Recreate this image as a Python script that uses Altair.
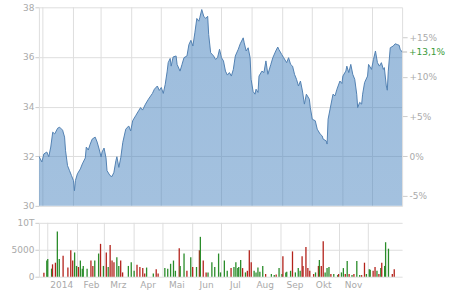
import altair as alt
import pandas as pd

# ---------------- data ----------------
# price: day offset from 2014-01-01, closing price
price_day = [-4, -1, 1, 4, 6, 8, 10, 12, 15, 17, 20, 22, 23, 25, 27, 29, 31, 32, 33, 35,
             38, 40, 43, 44, 46, 48, 50, 53, 55, 57, 59, 60, 62, 64, 65, 68, 70, 72, 74, 75,
             77, 79, 81, 84, 87, 89, 91, 94, 97, 99, 101, 104, 107, 111, 113, 116, 118, 120, 122, 124,
             126, 127, 129, 130, 132, 135, 136, 139, 141, 143, 146, 148, 150, 152, 154, 156, 158, 159, 161, 163,
             165, 167, 168, 170, 173, 175, 177, 179, 181, 183, 185, 187, 189, 191, 193, 195, 198, 200, 203, 204,
             206, 208, 210, 211, 213, 215, 216, 218, 219, 222, 224, 226, 228, 231, 233, 236, 238, 239, 242, 244,
             247, 249, 251, 253, 255, 257, 259, 261, 263, 265, 267, 270, 271, 273, 276, 278, 281, 283, 284, 287,
             288, 289, 292, 294, 296, 298, 301, 303, 304, 307, 308, 310, 312, 314, 316, 318, 319, 321, 323, 324,
             326, 329, 330, 333, 335, 337, 339, 341, 343, 345, 346, 348, 349, 350, 352, 355, 357, 359, 361, 362,
             364]
price_val = [32.00, 31.77, 32.09, 32.17, 31.98, 32.37, 32.97, 32.90, 33.13, 33.17, 33.05, 32.77, 32.22, 31.62, 31.42, 31.22, 31.02, 30.61, 31.02, 31.29,
             31.49, 31.69, 31.93, 32.37, 32.25, 32.49, 32.69, 32.77, 32.57, 32.29, 31.97, 32.17, 32.33, 31.93, 31.42, 31.22, 31.18, 31.35, 31.82, 31.98,
             31.55, 31.96, 32.56, 33.09, 33.22, 33.02, 33.43, 33.63, 33.83, 33.96, 33.86, 34.10, 34.30, 34.53, 34.70, 34.83, 34.65, 34.77, 34.53, 34.90,
             35.43, 35.77, 35.94, 35.63, 36.00, 36.04, 35.70, 35.43, 35.70, 35.97, 36.04, 36.50, 36.67, 36.44, 36.97, 37.55, 37.44, 37.58, 37.91, 37.64,
             37.55, 37.64, 36.91, 36.17, 36.04, 35.90, 35.97, 36.31, 35.97, 35.84, 35.43, 35.27, 35.37, 35.23, 35.50, 36.04, 36.31, 36.53, 36.77, 36.57,
             36.24, 36.37, 35.97, 35.10, 34.61, 34.50, 34.70, 34.57, 35.23, 35.43, 35.37, 35.84, 35.30, 35.70, 35.97, 36.24, 36.40, 36.31, 36.10, 35.97,
             35.77, 35.97, 35.70, 35.63, 35.30, 35.10, 34.83, 35.03, 34.63, 34.10, 34.50, 34.30, 33.96, 33.49, 33.43, 33.09, 32.89, 32.82, 32.69, 32.62,
             32.49, 33.49, 34.10, 34.50, 34.43, 34.70, 35.03, 34.93, 35.23, 35.43, 35.63, 35.37, 35.70, 35.30, 35.10, 34.50, 33.96, 34.17, 34.10, 34.50,
             34.97, 35.23, 35.70, 35.50, 35.90, 36.24, 35.77, 35.63, 35.77, 35.50, 35.57, 34.83, 34.66, 35.43, 36.37, 36.44, 36.53, 36.50, 36.47, 36.31,
             36.20]

# volume: day offset, shares, direction
vol_day = [-4, -1, 0, 4, 5, 8, 10, 12, 16, 21, 24, 26, 28, 30, 32, 34, 36, 37, 41, 45,
           47, 49, 53, 55, 58, 61, 63, 65, 67, 69, 72, 74, 76, 78, 84, 87, 90, 93, 96, 99,
           101, 103, 110, 113, 115, 122, 125, 128, 131, 133, 137, 138, 142, 145, 149, 151, 155, 158, 159, 162,
           165, 167, 171, 174, 178, 180, 184, 187, 191, 194, 196, 198, 199, 201, 203, 206, 208, 210, 212, 215,
           217, 219, 221, 224, 227, 233, 236, 238, 241, 244, 245, 248, 249, 253, 255, 258, 261, 263, 265, 266,
           269, 271, 273, 277, 279, 282, 283, 285, 287, 289, 291, 293, 295, 298, 302, 303, 306, 308, 310, 312,
           314, 317, 319, 322, 325, 327, 330, 332, 335, 336, 339, 341, 343, 345, 347, 348, 351, 352, 355, 359,
           361]
vol_val = [740, 3000, 3300, 1500, 2300, 2600, 8400, 3300, 3900, 1700, 4900, 3000, 4500, 2000, 1800, 3000, 1500, 2000, 1500, 3000,
           2000, 3000, 4300, 6100, 2000, 4500, 1800, 5900, 3000, 2700, 3600, 2000, 3000, 800, 2000, 2700, 1100, 2200, 1800, 1600,
           600, 1700, 600, 1400, 600, 1600, 1500, 2400, 3000, 1100, 5300, 2000, 4300, 1100, 3600, 1800, 1800, 4900, 7400, 3000,
           800, 800, 2700, 1800, 4300, 800, 3000, 1100, 1600, 1800, 2700, 1600, 1800, 3100, 1600, 800, 1100, 4900, 2700, 1100,
           800, 1700, 900, 2000, 500, 500, 300, 400, 1600, 500, 3800, 800, 900, 1100, 4700, 800, 1600, 1100, 3800, 2000,
           5500, 1600, 1100, 500, 800, 2000, 3100, 2000, 6600, 800, 1600, 1800, 500, 500, 300, 500, 800, 1600, 500, 2900,
           500, 300, 500, 2900, 300, 300, 2600, 500, 1400, 1300, 1100, 1800, 1100, 500, 1600, 2600, 2000, 6400, 5200, 500,
           1400]
vol_dir = ["d", "u", "u", "u", "d", "d", "u", "u", "d", "d", "d", "d", "u", "u", "d", "u", "u", "u", "u", "d",
           "d", "u", "u", "d", "u", "d", "u", "d", "d", "d", "u", "u", "d", "d", "u", "u", "u", "d", "d", "d",
           "d", "u", "u", "d", "d", "u", "u", "u", "u", "u", "d", "u", "u", "d", "u", "d", "u", "d", "u", "d",
           "d", "u", "u", "u", "u", "u", "u", "u", "d", "u", "u", "u", "u", "u", "d", "u", "d", "d", "d", "u",
           "u", "u", "u", "u", "d", "u", "u", "d", "u", "u", "d", "u", "u", "u", "d", "u", "u", "u", "d", "d",
           "d", "d", "d", "d", "u", "d", "u", "d", "d", "u", "u", "u", "d", "u", "u", "d", "u", "u", "d", "u",
           "d", "u", "d", "u", "u", "d", "d", "u", "u", "u", "d", "d", "u", "d", "u", "d", "u", "u", "u", "d",
           "d"]

month_labels = ["2014", "Feb", "Mrz", "Apr", "Mai", "Jun", "Jul", "Aug", "Sep", "Okt", "Nov", "Dez"]
label_months = list(range(1, 12))          # months that carry a label
price_ticks = [30, 32, 34, 36, 38]
pct_ticks = [-5, 0, 5, 10, 15]
vol_ticks = [0, 5000, 10000]

# ---------------- frames ----------------
origin = pd.Timestamp("2014-01-01")
def to_date(d):
    return (origin + pd.Timedelta(days=d)).strftime("%Y-%m-%dT00:00:00")

price_df = pd.DataFrame({"date": [to_date(d) for d in price_day], "price": price_val})
vol_df = pd.DataFrame({"date": [to_date(d) for d in vol_day], "vol": vol_val,
                       "dir": ["up" if s == "u" else "down" for s in vol_dir]})
grid_df = pd.DataFrame({"date": [f"2014-{m:02d}-01T00:00:00" for m in range(1, 13)]})

base = price_val[0]
last = price_val[-1]
pct_last = (last / base - 1) * 100
last_df = pd.DataFrame({"date": [price_df["date"].iloc[-1]], "price": [last],
                        "lab": ["+" + f"{pct_last:.1f}".replace(".", ",") + "%"]})

domain = [price_df["date"].iloc[0], price_df["date"].iloc[-1]]
xscale = alt.Scale(domain=domain, nice=False)

W = 364
FONT = "DejaVu Sans"
LAB = "#aaaaaa"
GRID = "#dedede"

# ---------------- price panel ----------------
xnone = alt.X("date:T", scale=xscale, axis=None)
yscale = alt.Scale(domain=[30, 38], nice=False, zero=False)

vgrid = alt.Chart(grid_df).mark_rule(color=GRID, strokeWidth=1).encode(x=xnone)

area = alt.Chart(price_df).mark_area(
    clip=True,
    color=alt.Gradient(
        gradient="linear",
        stops=[alt.GradientStop(color="rgba(70,130,190,0.53)", offset=0),
               alt.GradientStop(color="rgba(70,130,190,0.37)", offset=1)],
        x1=1, x2=1, y1=0, y2=1),
).encode(
    x=xnone,
    y=alt.Y("price:Q", scale=yscale,
            axis=alt.Axis(values=price_ticks, title=None, grid=True, gridColor=GRID,
                          tickSize=4, labelPadding=1, domain=True, domainColor=GRID)),
)

pct_vals = [base * (1 + p / 100) for p in pct_ticks]
pct_expr = (f"(round((datum.value/{base}-1)*100) > 0 ? '+' : '') + "
            f"round((datum.value/{base}-1)*100) + '%'")

line = alt.Chart(price_df).mark_line(color="#5281b2", strokeWidth=1, clip=True).encode(
    x=xnone,
    y=alt.Y("price:Q", scale=yscale,
            axis=alt.Axis(orient="right", values=pct_vals, labelExpr=pct_expr, title=None,
                          grid=False, tickSize=5, labelPadding=2, domain=True, domainColor=GRID)),
)

last_tick = alt.Chart(last_df).mark_rule(color="#bbbbbb").encode(
    x=alt.value(W), x2=alt.value(W + 5), y=alt.Y("price:Q", scale=yscale, axis=None))
last_text = alt.Chart(last_df).mark_text(
    align="left", baseline="middle", color="#3a9a3a", font=FONT, fontSize=9
).encode(x=alt.value(W + 7), y=alt.Y("price:Q", scale=yscale, axis=None), text="lab:N")

price_chart = alt.layer(vgrid, area, line, last_tick, last_text).resolve_axis(
    y="independent").properties(width=W, height=199)

# ---------------- volume panel ----------------
labels_js = "[" + ",".join(f"'{s}'" for s in month_labels) + "]"
xaxis_vol = alt.Axis(values=[alt.DateTime(year=2014, month=m, date=15) for m in label_months],
                     labelExpr=f"{labels_js}[month(datum.value)]",
                     title=None, grid=False, ticks=False, domain=False, labelPadding=4)
yscale_vol = alt.Scale(domain=[0, 10000], nice=False)
yaxis_vol = alt.Axis(values=vol_ticks, title=None, grid=True, gridColor=GRID,
                     labelExpr="datum.value >= 10000 ? '10T' : datum.value",
                     tickSize=4, labelPadding=1, domain=True, domainColor=GRID)

vgrid2 = alt.Chart(grid_df).mark_rule(color=GRID, strokeWidth=1).encode(
    x=alt.X("date:T", scale=xscale, axis=xaxis_vol))

bars = alt.Chart(vol_df).mark_bar(size=1.3).encode(
    x=alt.X("date:T", scale=xscale, axis=xaxis_vol),
    y=alt.Y("vol:Q", scale=yscale_vol, axis=yaxis_vol),
    color=alt.Color("dir:N", scale=alt.Scale(domain=["up", "down"], range=["#2a8c2a", "#b3221b"]),
                    legend=None),
)

vol_chart = alt.layer(vgrid2, bars).properties(width=W, height=54)

chart = alt.vconcat(price_chart, vol_chart, spacing=8).properties(
    padding={"left": 11, "right": 4, "top": 3, "bottom": 4}
).configure_view(stroke=None).configure_axis(
    labelFont=FONT, labelFontSize=9, labelColor=LAB, tickColor="#cccccc"
)

chart.save("out.html", embed_options={"renderer": "svg", "actions": False})
